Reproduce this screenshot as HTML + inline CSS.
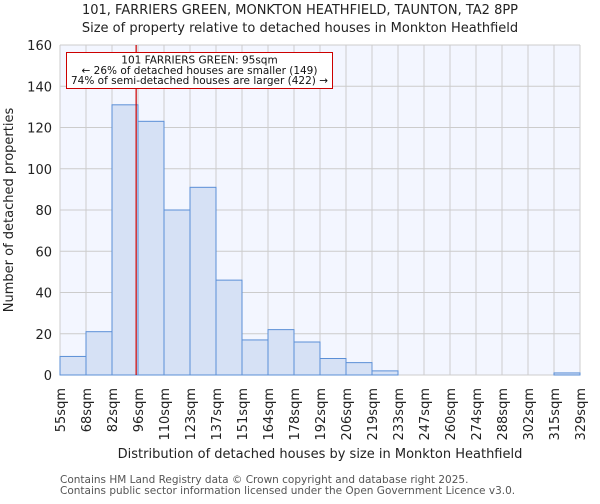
<!DOCTYPE html>
<html><head><meta charset="utf-8"><style>
body{margin:0;background:#fff;font-family:"DejaVu Sans","Liberation Sans",sans-serif}
</style></head><body>
<svg width="600" height="500" xmlns="http://www.w3.org/2000/svg" font-family="DejaVu Sans, Liberation Sans, sans-serif">
<g id="root"></g>
</svg>
<script>
const edgeLabels=["55sqm","68sqm","82sqm","96sqm","110sqm","123sqm","137sqm","151sqm","164sqm","178sqm","192sqm","206sqm","219sqm","233sqm","247sqm","260sqm","274sqm","288sqm","302sqm","315sqm","329sqm"];
const edgeValues=[55,68,82,96,110,123,137,151,164,178,192,206,219,233,247,260,274,288,302,315,329];
const counts=[9,21,131,123,80,91,46,17,22,16,8,6,2,0,0,0,0,0,0,1];
const yTicks=[0,20,40,60,80,100,120,140,160];
const marker=95;
const L=60,R=580,T=45,B=375,yMax=160;
const nb=counts.length;
const bw=(R-L)/nb;
const xi=i=>L+i*bw;
const xv=v=>{for(let i=0;i<nb;i++){if(v<=edgeValues[i+1])return xi(i)+(v-edgeValues[i])/(edgeValues[i+1]-edgeValues[i])*bw;}return R;};
const y=v=>B-(v/yMax)*(B-T);
const NS="http://www.w3.org/2000/svg";
const root=document.getElementById('root');
function mk(tag,attrs,parent){const e=document.createElementNS(NS,tag);for(const k in attrs)e.setAttribute(k,attrs[k]);(parent||root).appendChild(e);return e;}
let e=mk('rect',{x:L,y:T,width:R-L,height:B-T,fill:'#f3f6ff'});


const grid=mk('g',{});


for(let i=0;i<=nb;i++)mk('line',{x1:xi(i),x2:xi(i),y1:T,y2:B,stroke:'#cccccc','stroke-width':1},grid);
yTicks.forEach(t=>mk('line',{x1:L,x2:R,y1:y(t),y2:y(t),stroke:'#cccccc','stroke-width':1},grid));
counts.forEach((c,i)=>{const r=mk('rect',{x:xi(i),y:y(c),width:bw,height:B-y(c),fill:'#d6e1f5',stroke:'#5b8fd6','stroke-width':1});

});
yTicks.forEach(t=>{const tx=mk('text',{x:L-8,y:y(t)+5,'text-anchor':'end','font-size':13,fill:'#222'});tx.textContent=t;

});
edgeLabels.forEach((lb,i)=>{const tx=mk('text',{transform:`translate(${xi(i)+5},388) rotate(-90)`,'text-anchor':'end','font-size':13,fill:'#222'});tx.textContent=lb;

});
const mx=xv(marker);
e=mk('line',{x1:mx,x2:mx,y1:T,y2:B,stroke:'#cc0000','stroke-width':1.2});


const ann=mk('g',{});


mk('rect',{x:66.5,y:52.5,width:266,height:36,fill:'#fff',stroke:'#cc0000','stroke-width':1},ann);
["101 FARRIERS GREEN: 95sqm","← 26% of detached houses are smaller (149)","74% of semi-detached houses are larger (422) →"].forEach((s,i)=>{const tx=mk('text',{x:199.5,y:63.5+i*10.3,'text-anchor':'middle','font-size':10.5,fill:'#111'},ann);tx.textContent=s;});
function label(txt,attrs,name){const tx=mk('text',attrs);tx.textContent=txt;}
label("101, FARRIERS GREEN, MONKTON HEATHFIELD, TAUNTON, TA2 8PP",{x:300,y:14,'text-anchor':'middle','font-size':13,fill:'#222'},'chart-title');
label("Size of property relative to detached houses in Monkton Heathfield",{x:300,y:32,'text-anchor':'middle','font-size':13,fill:'#222'},'chart-subtitle');
label("Distribution of detached houses by size in Monkton Heathfield",{x:320,y:458,'text-anchor':'middle','font-size':13,fill:'#222'},'x-axis-title');
label("Number of detached properties",{transform:'translate(13,210) rotate(-90)','text-anchor':'middle','font-size':13,fill:'#222'},'y-axis-title');
label("Contains HM Land Registry data © Crown copyright and database right 2025.",{x:60,y:483,'font-size':10.5,fill:'#555'},'footer-line-1');
label("Contains public sector information licensed under the Open Government Licence v3.0.",{x:60,y:494,'font-size':10.5,fill:'#555'},'footer-line-2');
</script>
</body></html>
